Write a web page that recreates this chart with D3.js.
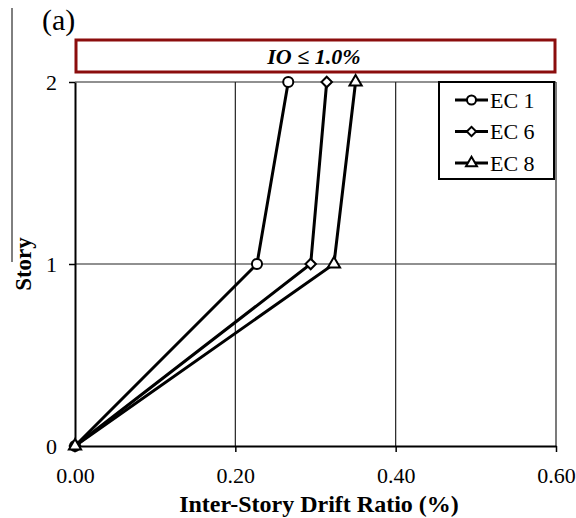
<html>
<head>
<script src="https://d3js.org/d3.v7.min.js"></script>
<style>
body { margin: 0; background: #fff; }
svg text { font-family: 'Liberation Serif', 'Times New Roman', serif; }
</style>
</head>
<body>
<div id="chart"></div>
<script>
// data
var stories = [0, 1, 2];
var ec1 = [0, 0.227, 0.266];
var ec6 = [0, 0.294, 0.314];
var ec8 = [0, 0.323, 0.350];
var seriesNames = ["EC 1", "EC 6", "EC 8"];
var xTicks = [0, 0.2, 0.4, 0.6];
var yTicks = [0, 1, 2];

var width = 576, height = 518;
var svg = d3.select("#chart").append("svg").attr("width", width).attr("height", height);

var x = d3.scaleLinear().domain([0, 0.6]).range([75, 556]);
var y = d3.scaleLinear().domain([0, 2]).range([446, 82]);

// decorative left rule + panel label
svg.append("line").attr("x1", 12).attr("x2", 12).attr("y1", 8).attr("y2", 262)
  .attr("stroke", "#000").attr("stroke-width", 1);
svg.append("text").attr("x", 42).attr("y", 30).style("font-size", "30px").text("(a)");

// grid
svg.selectAll(".vgrid").data(xTicks.slice(1)).enter().append("line")
  .attr("x1", d => x(d)).attr("x2", d => x(d)).attr("y1", y(2)).attr("y2", y(0))
  .attr("stroke", "#222").attr("stroke-width", 1.2);
svg.selectAll(".hgrid").data(yTicks.slice(1)).enter().append("line")
  .attr("x1", x(0)).attr("x2", x(0.6)).attr("y1", d => y(d)).attr("y2", d => y(d))
  .attr("stroke", "#222").attr("stroke-width", 1.2);

// axes
var xAxis = d3.axisBottom(x).tickValues(xTicks).tickFormat(d3.format(".2f")).tickSize(6).tickSizeOuter(0);
var gx = svg.append("g").attr("transform", "translate(0," + y(0) + ")").call(xAxis);
var yAxis = d3.axisLeft(y).tickValues(yTicks).tickFormat(d3.format("d")).tickSize(6).tickSizeOuter(0);
var gy = svg.append("g").attr("transform", "translate(" + x(0) + ",0)").call(yAxis);
[gx, gy].forEach(function(g) {
  g.select(".domain").attr("stroke", "#000").attr("stroke-width", 2);
  g.selectAll(".tick line").attr("stroke", "#000").attr("stroke-width", 1.5);
  g.selectAll("text").attr("fill", "#000").style("font-size", "22px");
});
gx.selectAll("text").attr("y", 21);
gy.selectAll("text").attr("x", -18).attr("dy", "0.35em");

// red IO box
svg.append("rect").attr("x", 76).attr("y", 40).attr("width", 479).attr("height", 32)
  .attr("fill", "#fff").attr("stroke", "#8b0d0d").attr("stroke-width", 3);
svg.append("text").attr("x", 314).attr("y", 64).attr("text-anchor", "middle")
  .style("font-family", "'Liberation Serif', 'DejaVu Serif', serif")
  .style("font-size", "22px").style("font-weight", "bold").style("font-style", "italic")
  .text("IO ≤ 1.0%");

// axis titles
svg.append("text").attr("x", 319).attr("y", 512).attr("text-anchor", "middle")
  .style("font-size", "24px").style("font-weight", "bold").text("Inter-Story Drift Ratio (%)");
svg.append("text").attr("transform", "translate(31,264) rotate(-90)").attr("text-anchor", "middle")
  .style("font-size", "23px").style("font-weight", "bold").text("Story");

// series
var series = [ec1, ec6, ec8];
var symbols = [d3.symbolCircle, d3.symbolSquare, d3.symbolTriangle];
var symSizes = [80, 55, 65];
var symRot = [0, 45, 0];
var line = d3.line().x(d => x(d[0])).y(d => y(d[1]));

series.forEach(function(s, i) {
  var pts = s.map((v, j) => [v, stories[j]]);
  svg.append("path").attr("d", line(pts)).attr("fill", "none")
    .attr("stroke", "#000").attr("stroke-width", 3);
});
series.forEach(function(s, i) {
  var pts = s.map((v, j) => [v, stories[j]]);
  svg.selectAll(".m" + i).data(pts).enter().append("path")
    .attr("d", d3.symbol().type(symbols[i]).size(symSizes[i]))
    .attr("transform", d => "translate(" + x(d[0]) + "," + y(d[1]) + ") rotate(" + symRot[i] + ")")
    .attr("fill", "#fff").attr("stroke", "#000").attr("stroke-width", 2);
});

// legend
var lg = svg.append("g");
lg.append("rect").attr("x", 439).attr("y", 82).attr("width", 115).attr("height", 97)
  .attr("fill", "#fff").attr("stroke", "#000").attr("stroke-width", 2);
seriesNames.forEach(function(n, i) {
  var ly = 100 + i * 31.5;
  lg.append("line").attr("x1", 455).attr("x2", 488).attr("y1", ly).attr("y2", ly)
    .attr("stroke", "#000").attr("stroke-width", 3);
  lg.append("path").attr("d", d3.symbol().type(symbols[i]).size(symSizes[i] * 0.8))
    .attr("transform", "translate(471.5," + ly + ") rotate(" + symRot[i] + ")")
    .attr("fill", "#fff").attr("stroke", "#000").attr("stroke-width", 2);
  lg.append("text").attr("x", 490).attr("y", ly + 7.5).style("font-size", "22px").text(n);
});
</script>
</body>
</html>
